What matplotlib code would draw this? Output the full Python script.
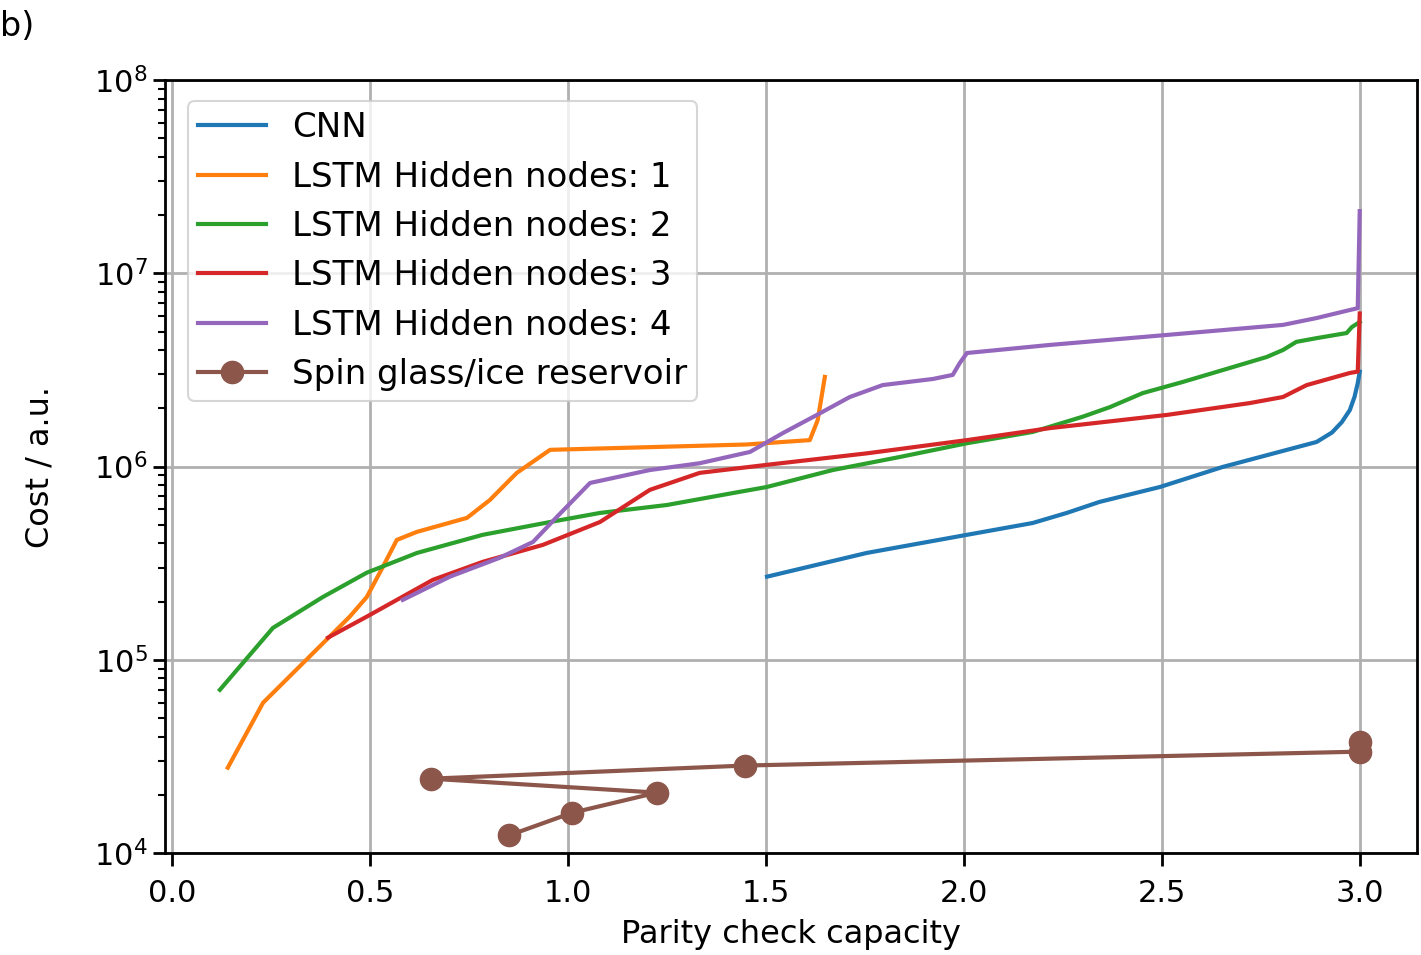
import numpy as np
import matplotlib
matplotlib.use("Agg")
import matplotlib.pyplot as plt

# values (x = parity check capacity, y = cost)
cnn_x = [1.503, 1.755, 2.008, 2.174, 2.26, 2.343, 2.495, 2.654, 2.891, 2.93, 2.955, 2.975, 2.987, 2.995, 3.0]
cnn_y = [2.69e5, 3.57e5, 4.43e5, 5.1e5, 5.75e5, 6.56e5, 7.83e5, 9.95e5, 1.34e6, 1.5e6, 1.7e6, 1.96e6, 2.3e6, 2.7e6, 3.1e6]

lstm1_x = [0.141, 0.230, 0.348, 0.449, 0.492, 0.533, 0.568, 0.619, 0.745, 0.803, 0.871, 0.955,
           1.207, 1.45, 1.611, 1.631, 1.649]
lstm1_y = [2.76e4, 5.98e4, 1.04e5, 1.67e5, 2.11e5, 3.03e5, 4.17e5, 4.59e5, 5.42e5, 6.71e5,
           9.27e5, 1.22e6, 1.26e6, 1.3e6, 1.37e6, 1.74e6, 2.91e6]

lstm2_x = [0.121, 0.255, 0.381, 0.492, 0.619, 0.785, 0.955, 1.081, 1.25, 1.417, 1.502, 1.669,
           1.838, 2.008, 2.174, 2.30, 2.369, 2.452, 2.553, 2.679, 2.765, 2.806, 2.840,
           2.891, 2.967, 2.98, 3.0]
lstm2_y = [6.98e4, 1.46e5, 2.11e5, 2.82e5, 3.57e5, 4.43e5, 5.16e5, 5.75e5, 6.32e5, 7.29e5,
           7.83e5, 9.59e5, 1.12e6, 1.32e6, 1.51e6, 1.81e6, 2.03e6, 2.4e6, 2.74e6, 3.27e6,
           3.69e6, 4.01e6, 4.42e6, 4.62e6, 4.91e6, 5.27e6, 5.6e6]

lstm3_x = [0.394, 0.492, 0.659, 0.785, 0.937, 1.081, 1.207, 1.333, 1.502, 1.755, 2.008, 2.217,
           2.513, 2.722, 2.806, 2.866, 2.975, 2.995, 3.0]
lstm3_y = [1.3e5, 1.67e5, 2.59e5, 3.21e5, 3.93e5, 5.16e5, 7.57e5, 9.27e5, 1.02e6, 1.17e6,
           1.37e6, 1.58e6, 1.85e6, 2.13e6, 2.29e6, 2.64e6, 3.05e6, 3.1e6, 6.2e6]

lstm4_x = [0.583, 0.702, 0.828, 0.912, 0.972, 1.056, 1.207, 1.333, 1.46, 1.543, 1.629, 1.712,
           1.795, 1.922, 1.972, 1.99, 2.008, 2.217, 2.513, 2.806, 2.891, 2.975, 2.995, 3.0]
lstm4_y = [2.04e5, 2.69e5, 3.37e5, 4.07e5, 5.48e5, 8.22e5, 9.59e5, 1.04e6, 1.19e6, 1.49e6,
           1.85e6, 2.29e6, 2.64e6, 2.84e6, 2.98e6, 3.44e6, 3.87e6, 4.26e6, 4.8e6, 5.41e6,
           5.87e6, 6.46e6, 6.6e6, 2.1e7]

spin_x = [0.851, 1.010, 1.225, 0.654, 1.447, 3.0, 3.0]
spin_y = [1.23e4, 1.61e4, 2.05e4, 2.42e4, 2.83e4, 3.34e4, 3.76e4]

fig = plt.figure(figsize=(14.21, 9.55), dpi=100)
ax = fig.add_axes([0.116, 0.107, 0.881, 0.809])

lw = 3.0
ax.plot(cnn_x, cnn_y, color='C0', lw=lw, label='CNN')
ax.plot(lstm1_x, lstm1_y, color='C1', lw=lw, label='LSTM Hidden nodes: 1')
ax.plot(lstm2_x, lstm2_y, color='C2', lw=lw, label='LSTM Hidden nodes: 2')
ax.plot(lstm3_x, lstm3_y, color='C3', lw=lw, label='LSTM Hidden nodes: 3')
ax.plot(lstm4_x, lstm4_y, color='C4', lw=lw, label='LSTM Hidden nodes: 4')
ax.plot(spin_x, spin_y, color='C5', lw=lw, marker='o', markersize=16,
        label='Spin glass/ice reservoir')

ax.set_yscale('log')
ax.set_ylim(1e4, 1e8)
ax.set_xlim(-0.018, 3.144)
ax.set_xticks(np.arange(0, 3.01, 0.5))

ax.grid(True, which='major', color='#b0b0b0', lw=2)
ax.tick_params(axis='both', which='major', labelsize=22, length=9, width=2)
ax.tick_params(axis='x', which='major', pad=10)
ax.tick_params(axis='y', which='minor', length=5, width=1.5)
for s in ax.spines.values():
    s.set_linewidth(2)

ax.set_xlabel('Parity check capacity', fontsize=23, labelpad=8)
ax.set_ylabel('Cost / a.u.', fontsize=23, labelpad=28)

leg = ax.legend(loc='upper left', fontsize=24.5, handlelength=2.0,
                borderpad=0.3, labelspacing=0.48, handletextpad=0.75,
                bbox_to_anchor=(0.005, 0.995))
leg.get_frame().set_linewidth(1.5)

fig.text(0.0, 0.99, 'b)', fontsize=24, va='top', ha='left')

fig.savefig('out.png', dpi=100)
